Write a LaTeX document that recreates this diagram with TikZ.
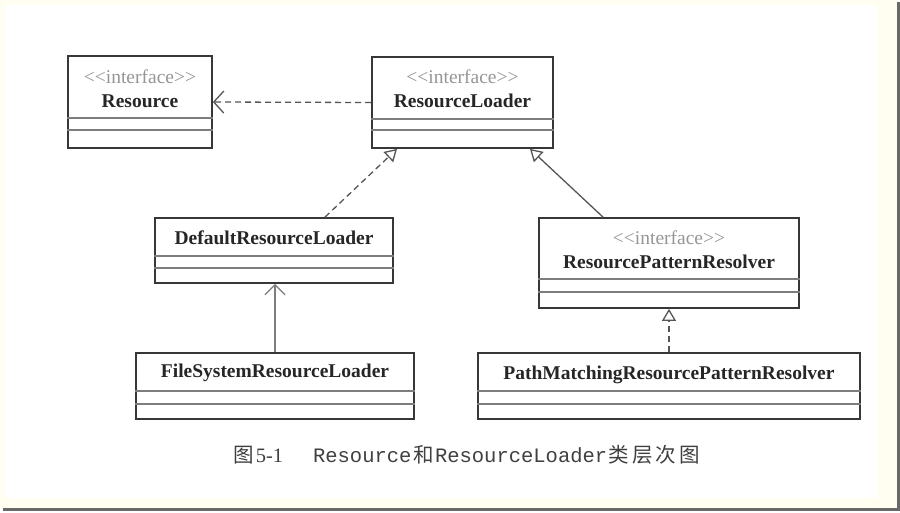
\documentclass[tikz,border=0pt]{standalone}
\usepackage{fontspec}
\setmainfont{Liberation Serif}
\newfontfamily\cnfont{Noto Sans CJK SC}
\newfontfamily\capmono{Liberation Mono}
\usetikzlibrary{arrows.meta, positioning}
\definecolor{xFrame}{RGB}{255,254,240}
\definecolor{xEdge}{RGB}{55,55,55}
\definecolor{xRule}{RGB}{125,125,125}
\definecolor{xStereo}{RGB}{150,150,150}
\definecolor{xShade}{RGB}{105,105,105}
\definecolor{xLink}{RGB}{85,85,85}
\newcommand{\Ifc}[1]{{\color{xStereo}{<}{<}interface{>}{>}}\\\textbf{#1}}
\newcommand{\Rules}[3]{%
  \draw[divider] ([yshift=#2]#1.south west) -- ([yshift=#2]#1.south east);
  \draw[divider] ([yshift=#3]#1.south west) -- ([yshift=#3]#1.south east);}
\newcommand{\Cn}[1]{{\cnfont\hspace{1.5pt}#1\hspace{1.5pt}}}
\tikzset{
  box/.style={draw=xEdge, line width=1.8pt, fill=white, inner sep=0pt},
  txt/.style={align=center, font=\fontsize{19.5}{24}\selectfont, inner sep=0pt, text=black!85},
  divider/.style={xRule, line width=1.2pt},
  realize/.style={-{Triangle[open, length=12pt, width=14pt, fill=white]}, xLink, line width=1.3pt, dash pattern=on 6pt off 4pt},
  extend/.style={-{Triangle[open, length=12pt, width=14pt, fill=white]}, xLink, line width=1.3pt},
  depend/.style={-{Straight Barb[length=10pt, width=22pt]}, xLink, line width=1.3pt, dash pattern=on 6pt off 4pt},
  assoc/.style={-{Straight Barb[length=10pt, width=20pt]}, xRule, line width=1.3pt},
}

\begin{document}
\begin{tikzpicture}[x=1pt, y=-1pt]
    \useasboundingbox (0,0) rectangle (900,512);
    \fill[xFrame] (0,0) rectangle (897,508);
    \fill[white] (5,5) rectangle (877,498);
    \fill[xShade] (897,2) rectangle (900,511);
    \fill[xShade] (3,508) rectangle (900,511);

    \node[box, minimum width=144pt, minimum height=92pt] (res) at (140,102) {};
    \node[box, minimum width=181pt, minimum height=91pt] (ldr) at (462.5,102.5) {};
    \node[box, minimum width=238pt, minimum height=65pt] (dft) at (274,250.5) {};
    \node[box, minimum width=260pt, minimum height=90pt] (rpr) at (669,263) {};
    \node[box, minimum width=278pt, minimum height=66pt] (fsl) at (275,386) {};
    \node[box, minimum width=382pt, minimum height=66pt] (pmr) at (669,386) {};

    \Rules{res}{31pt}{19pt}
    \Rules{ldr}{30pt}{19pt}
    \Rules{dft}{28pt}{16pt}
    \Rules{rpr}{30pt}{17pt}
    \Rules{fsl}{29pt}{16pt}
    \Rules{pmr}{29pt}{16pt}

    \node[txt] (resT) at (140,89)   {\Ifc{Resource}};
    \node[txt] (ldrT) at (462.5,89) {\Ifc{ResourceLoader}};
    \node[txt] (dftT) at (274,238)  {\textbf{DefaultResourceLoader}};
    \node[txt] (rprT) at (669,250)  {\Ifc{ResourcePatternResolver}};
    \node[txt] (fslT) at (275,373)  {\textbf{FileSystemResourceLoader}};
    \node[txt] (pmrT) at (669,375)  {\textbf{PathMatchingResourcePatternResolver}};

    \draw[depend]  (ldr.west) -- (res.east);
    \draw[realize] ([xshift=51pt]dft.north) -- ([xshift=-65.5pt]ldr.south);
    \draw[extend]  ([xshift=-66pt]rpr.north) -- ([xshift=67.5pt]ldr.south);
    \draw[assoc]   (fsl.north) -- (fsl.north |- dft.south);
    \draw[realize] (pmr.north) -- (rpr.south);

    \node[font=\fontsize{20.5}{22}\selectfont, text=black!75, inner sep=0pt] (cap) at (466,455)
      {\Cn{图}5-1\hspace{30pt}{\capmono Resource}\Cn{和}{\capmono ResourceLoader}\Cn{类}\Cn{层}\Cn{次}\Cn{图}};
\end{tikzpicture}
\end{document}
